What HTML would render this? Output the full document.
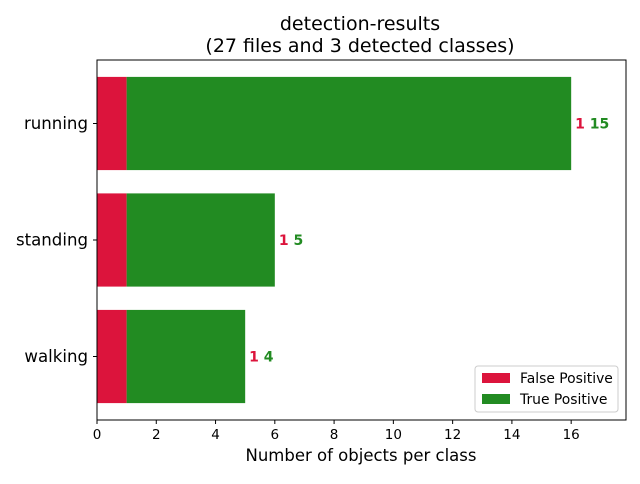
<!DOCTYPE html>
<html><head><meta charset="utf-8"><style>
body{margin:0;background:#fff;font-family:"DejaVu Sans","Liberation Sans",sans-serif;}
</style></head><body>
<svg width="640" height="480" xmlns="http://www.w3.org/2000/svg" font-family="DejaVu Sans, Liberation Sans, sans-serif">
<text x="360" y="30" text-anchor="middle" font-size="19">detection-results</text>
<text x="360" y="52" text-anchor="middle" font-size="19">(27 files and 3 detected classes)</text>
<g id="plot"></g>
<text x="361" y="461" text-anchor="middle" font-size="16.5">Number of objects per class</text>
<g>
<rect x="475" y="366" width="143" height="46" fill="#fff" stroke="#ccc" rx="3"/>
<rect x="482" y="373" width="28" height="10" fill="#dc143c"/>
<text x="520" y="383" font-size="13.9">False Positive</text>
<rect x="482" y="394" width="28" height="10" fill="#228b22"/>
<text x="520" y="404" font-size="13.9">True Positive</text>
</g>
</svg>
<script>
const categories=["walking","standing","running"];
const falsePos=[1,1,1];
const truePos=[4,5,15];
const xTicks=[0,2,4,6,8,10,12,14,16];
const NS="http://www.w3.org/2000/svg";
const L=97,R=626,T=60,B=420,xMax=17.85;
const x=v=>L+v/xMax*(R-L);
const unit=(B-T)/(categories.length-1+1.09);
const y=i=>B-(0.545+i)*unit;
const g=document.getElementById('plot');
function mk(t,a,p){const e=document.createElementNS(NS,t);for(const k in a)e.setAttribute(k,a[k]);(p||g).appendChild(e);return e;}
categories.forEach((c,i)=>{
 const cy=y(i),h=0.8*unit;
 const r1=mk('rect',{x:x(0),y:cy-h/2,width:x(falsePos[i])-x(0),height:h,fill:'#dc143c'});
 
 
 const r2=mk('rect',{x:x(falsePos[i]),y:cy-h/2,width:x(falsePos[i]+truePos[i])-x(falsePos[i]),height:h,fill:'#228b22'});
 
 
 const tx=x(falsePos[i]+truePos[i])+4;
 const t=mk('text',{x:tx,y:cy+5,'font-size':14,'font-weight':'bold'});
 
 
 const s1=mk('tspan',{fill:'#dc143c'},t);s1.textContent=falsePos[i]+' ';
 const s2=mk('tspan',{fill:'#228b22'},t);s2.textContent=truePos[i];
 mk('line',{x1:L-4,x2:L,y1:cy,y2:cy,stroke:'#000'});
 const lb=mk('text',{x:L-9,y:cy+5.5,'text-anchor':'end','font-size':16.6});
 
 
 lb.textContent=c;
});
xTicks.forEach(v=>{
 mk('line',{x1:x(v),x2:x(v),y1:B,y2:B+4,stroke:'#000'});
 const t=mk('text',{x:x(v),y:B+19,'text-anchor':'middle','font-size':13.5});
 
 
 t.textContent=v;
});
const ax=mk('rect',{x:L,y:T,width:R-L,height:B-T,fill:'none',stroke:'#000','stroke-width':1});


</script>
</body></html>
